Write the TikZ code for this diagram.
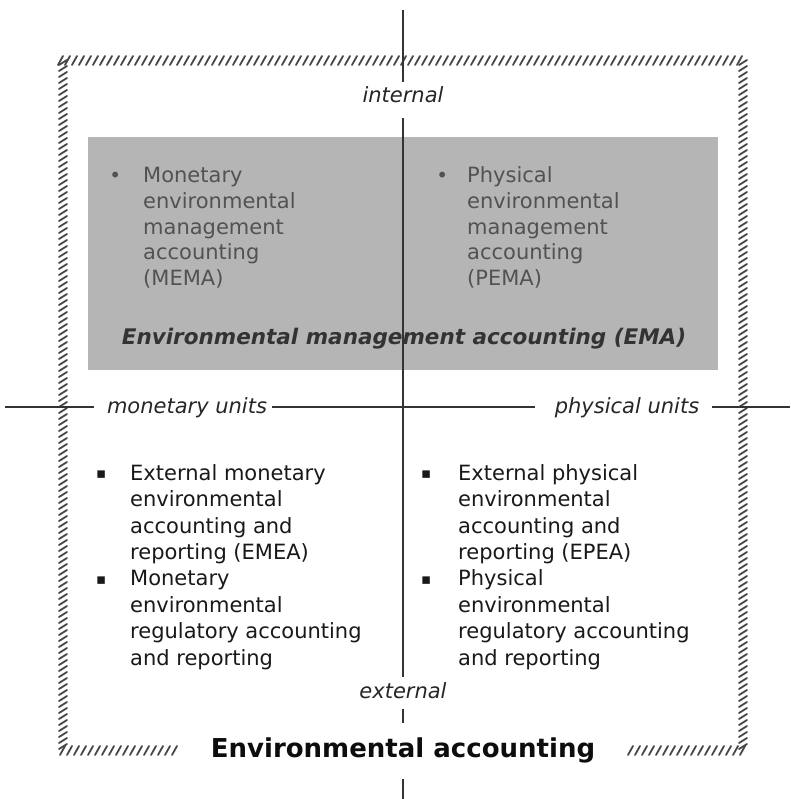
\documentclass[tikz,border=0pt]{standalone}
\usepackage{fontspec}
\setmainfont{DejaVu Sans}
\newcommand\tbul[1]{\llap{\raisebox{0.5pt}{\fontsize{20}{20}\selectfont •}\hspace{#1}}}
\newcommand\bbul[1]{\llap{\raisebox{1.5pt}{\fontsize{15}{15}\selectfont ▪}\hspace{#1}}}
\begin{document}
\begin{tikzpicture}[x=1pt,y=-1pt,
  lab/.style={font=\fontsize{21}{25}\selectfont\itshape, text=black!85, inner sep=0pt, anchor=base},
  topcol/.style={font=\fontsize{21}{25.5}\selectfont, text=black!68, align=left, inner sep=0pt, anchor=base west},
  botcol/.style={font=\fontsize{21}{26.4}\selectfont, text=black!90, align=left, inner sep=0pt, anchor=base west},
  axis/.style={line width=1.3pt, draw=black!80},
  hatch/.style={line width=1.8pt, draw=black!72, line cap=round}]
\useasboundingbox (0,0) rectangle (790,799);
\fill[white] (0,0) rectangle (790,799);
% shaded EMA area
\node[fill=black!29, minimum width=630pt, minimum height=233pt, anchor=north west, inner sep=0pt] (emabox) at (88,137) {};
% hatched frame
\foreach \x in {58,65,...,742} \draw[hatch] (\x,65) -- (\x+5,56);
\foreach \y in {62,68,...,748} \draw[hatch] (59,\y+3) -- (67,\y-2);
\foreach \y in {62,68,...,748} \draw[hatch] (739,\y+3) -- (747,\y-2);
\foreach \x in {60,67,...,178} \draw[hatch] (\x,755) -- (\x+5,746);
\foreach \x in {628,635,...,742} \draw[hatch] (\x,755) -- (\x+5,746);
% labels
\node[lab] (internal) at (403,103) {internal};
\node[lab] (external) at (403,698) {external};
\node[lab] (monetary) at (187,413) {monetary units};
\node[lab] (physical) at (627,413) {physical units};
\node[font=\fontsize{26}{30}\selectfont\bfseries, text=black!95, anchor=base, inner sep=0pt] (title) at (403,757) {Environmental accounting};
% axes
\coordinate (vt) at (403,10);
\coordinate (vb) at (403,799);
\coordinate (hl) at (5,407);
\coordinate (hr) at (790,407);
\draw[axis, shorten >=5pt] (vt) -- (internal.north);
\draw[axis, shorten <=15pt, shorten >=5pt] (internal.south) -- (external.north);
\draw[axis, shorten <=10pt, shorten >=14pt] (external.south) -- (title.north);
\draw[axis, shorten <=16pt] (title.south) -- (vb);
\draw[axis, shorten >=13pt] (hl) -- (hl -| monetary.west);
\draw[axis, shorten <=5pt, shorten >=20pt] (hl -| monetary.east) -- (hl -| physical.west);
\draw[axis, shorten <=13pt] (hr -| physical.east) -- (hr);
% EMA texts (base anchor = baseline of the last line)
\node[topcol] (mema) at (143,285) {\tbul{22pt}Monetary\\environmental\\management\\accounting\\(MEMA)};
\node[topcol] (pema) at (467,285) {\tbul{19pt}Physical\\environmental\\management\\accounting\\(PEMA)};
\node[font=\fontsize{21.5}{26}\selectfont\bfseries\itshape, text=black!80, anchor=base, inner sep=0pt] (ema) at (404,344) {Environmental management accounting (EMA)};
% external texts
\node[botcol] (emea) at (130,665) {\bbul{24pt}External monetary\\environmental\\accounting and\\reporting (EMEA)\\\bbul{24pt}Monetary\\environmental\\regulatory accounting\\and reporting};
\node[botcol] (epea) at (458,665) {\bbul{27pt}External physical\\environmental\\accounting and\\reporting (EPEA)\\\bbul{27pt}Physical\\environmental\\regulatory accounting\\and reporting};
\end{tikzpicture}
\end{document}
